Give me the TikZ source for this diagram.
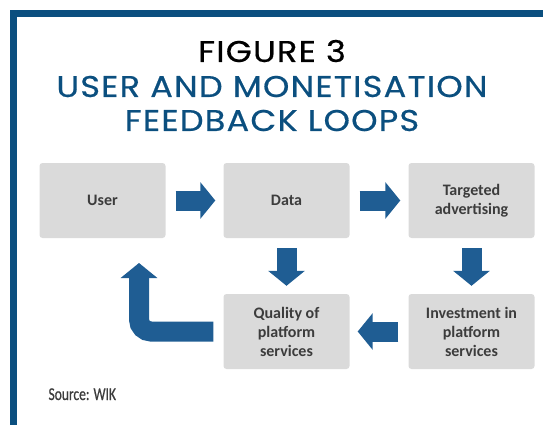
\documentclass[tikz,border=0pt]{standalone}
\usepackage{fontspec}
\setmainfont{Carlito}
\newfontfamily\titlefont[FakeStretch=1.12, LetterSpace=4, FakeBold=0.5]{Poppins}
\newfontfamily\srcfont[FakeStretch=0.75, FakeBold=0.6]{Carlito}
\usetikzlibrary{arrows.meta}
\definecolor{wakuao}{HTML}{0B4F7F}
\definecolor{yajiao}{HTML}{1F5D93}
\definecolor{hakogray}{HTML}{DADADA}
\definecolor{mojigray}{HTML}{3C3C3C}
\tikzset{
  hako/.style={fill=hakogray, rounded corners=3pt, minimum width=126pt, minimum height=75pt,
    inner sep=2pt, align=center, text=mojigray, font=\bfseries\fontsize{16}{19}\selectfont},
  yajirushi/.style={draw=yajiao, line width=20pt, shorten <=10pt, shorten >=8pt,
    -{Triangle[width=36pt,length=15pt]}},
  midashi/.style={anchor=base, font=\titlefont\fontsize{30}{30}\selectfont},
}
\begin{document}
\begin{tikzpicture}[x=1pt,y=-1pt]
   \useasboundingbox (0,0) rectangle (543,425);
   % 枠
   \fill[wakuao] (10,10) rectangle (543,17);
   \fill[wakuao] (10,10) rectangle (17,425);

   % タイトル
   \node [midashi] (fig) at (272,62) {FIGURE 3};
   \node [midashi, text=wakuao] (title1) at (272,97) {USER AND MONETISATION};
   \node [midashi, text=wakuao] (title2) at (272,131) {FEEDBACK LOOPS};

   % 箱
   \node [hako] (user) at (102.5,200.5) {User};
   \node [hako] (data) at (286.5,200.5) {Data};
   \node [hako] (ad) at (471.5,200.5) {Targeted\\advertising};
   \node [hako] (quality) at (286.5,331.5) {Quality of\\platform\\services};
   \node [hako] (invest) at (471.5,331.5) {Investment in\\platform\\services};

   % 矢印
   \draw [yajirushi] (user) -- (data);
   \draw [yajirushi] (data) -- (ad);
   \draw [yajirushi] (data) -- (quality);
   \draw [yajirushi] (ad) -- (invest);
   \draw [yajirushi] (invest) -- (quality);
   \coordinate (modori) at (139,263);
   \draw [yajirushi, rounded corners=12pt, shorten >=0pt] (quality.west) -| (modori);

   \node [anchor=base west, text=mojigray, font=\srcfont\fontsize{18}{18}\selectfont] (src) at (45,400) {Source: WIK};
\end{tikzpicture}
\end{document}
